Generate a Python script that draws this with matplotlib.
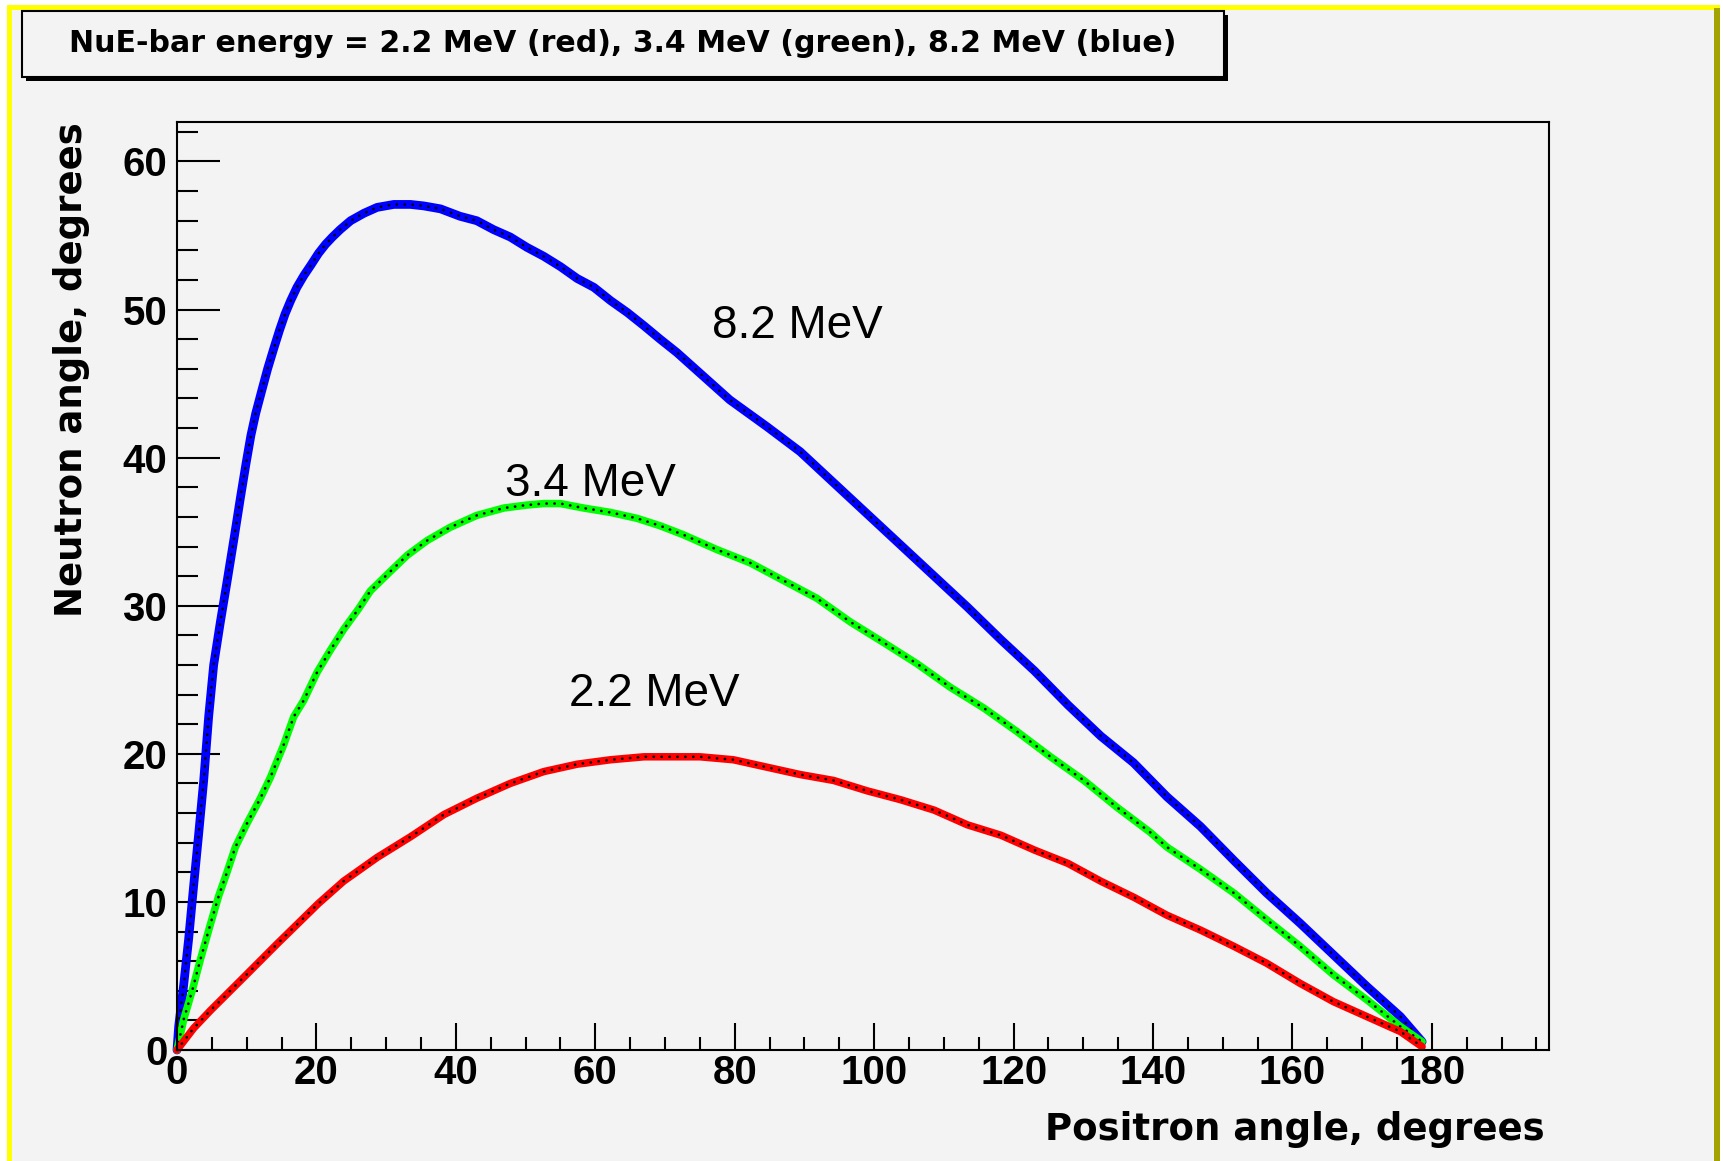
import numpy as np
import matplotlib.pyplot as plt
from matplotlib.patches import Rectangle
from matplotlib.ticker import MultipleLocator

plt.rcParams['font.family'] = ['Liberation Sans', 'DejaVu Sans']
plt.rcParams['font.weight'] = 'bold'

# positron angle (deg) vs neutron angle (deg) for three antineutrino energies
x_82 = [0, 0.24, 0.96, 1.67, 2.39, 3.11, 3.83, 4.54, 5.26, 6.22, 7.17, 8.2, 9.1, 9.9,
        10.6, 11.3, 12.2, 13.0, 13.9, 14.7, 15.5, 16.3, 17.2, 18.2, 19.2, 20.3, 21.3,
        22.3, 23.4, 24.9, 26.8, 28.7, 31.1, 33.5, 35.4, 37.8, 40.6, 43.0, 45.4, 47.8,
        50.2, 52.6, 55.0, 57.4, 59.8, 62.2, 64.6, 67.0, 69.3, 71.7, 75.5, 79.3, 84.6,
        89.4, 94.2, 99.0, 103.8, 108.6, 113.4, 118.2, 123.0, 127.8, 132.5, 137.2, 142.0,
        146.8, 151.6, 156.3, 161.1, 165.9, 170.7, 175.5, 178.6]
y_82 = [0, 1.6, 4.4, 7.5, 11.1, 14.6, 18.2, 22.5, 26.0, 28.9, 31.6, 34.6, 37.3, 39.6,
        41.5, 43.0, 44.6, 46.0, 47.4, 48.6, 49.7, 50.6, 51.5, 52.3, 53.0, 53.8, 54.4,
        54.9, 55.4, 56.0, 56.5, 56.9, 57.1, 57.1, 57.0, 56.8, 56.3, 56.0, 55.4, 54.9,
        54.2, 53.6, 52.9, 52.1, 51.5, 50.6, 49.8, 48.9, 48.0, 47.1, 45.5, 43.9, 42.1,
        40.4, 38.3, 36.2, 34.1, 32.0, 29.9, 27.7, 25.6, 23.3, 21.2, 19.4, 17.1,
        15.1, 12.8, 10.6, 8.56, 6.42, 4.28, 2.25, 0.56]

x_34 = [0, 0.96, 2.15, 3.35, 4.78, 5.98, 7.17, 8.37, 10.04, 11.96, 13.39, 15.3, 16.74,
        18.17, 20.09, 22.0, 23.9, 26.06, 27.74, 30.13, 33.0, 35.87, 39.2, 43.0, 46.9,
        50.2, 52.6, 55.0, 58.3, 62.2, 66.0, 69.3, 72.6, 77.4, 82.2, 87.0, 91.8, 96.6,
        101.4, 106.1, 110.9, 115.7, 120.5, 125.3, 130.1, 134.8, 139.6, 142.0, 146.8,
        151.6, 156.3, 161.1, 165.9, 170.7, 175.5, 178.6]
y_34 = [0, 2.06, 3.96, 6.1, 8.47, 10.4, 12.0, 13.7, 15.3, 17.0, 18.4, 20.6, 22.5,
        23.6, 25.5, 27.0, 28.4, 29.8, 31.0, 32.1, 33.4, 34.4, 35.3, 36.1, 36.6,
        36.8, 36.9, 36.9, 36.6, 36.3, 35.9, 35.4, 34.8, 33.8, 32.9, 31.7, 30.5, 28.9,
        27.5, 26.1, 24.5, 23.1, 21.5, 19.8, 18.2, 16.4, 14.7, 13.7, 12.2,
        10.6, 8.8, 7.0, 5.07, 3.38, 1.58, 0.56]

x_22 = [0, 2.39, 4.78, 9.56, 14.35, 20.3, 23.9, 28.7, 33.5, 38.3, 43.0, 47.8, 52.6,
        57.4, 62.2, 67.0, 71.7, 75.0, 79.8, 84.6, 89.4, 94.2, 99.0, 103.8, 108.6,
        113.4, 118.2, 123.0, 127.8, 132.5, 137.3, 142.0, 146.8, 151.6, 156.3, 161.1,
        165.9, 170.7, 175.5, 178.6]
y_22 = [0, 1.47, 2.66, 4.9, 7.16, 9.9, 11.4, 13.0, 14.4, 15.9, 17.0, 18.0, 18.8,
        19.3, 19.6, 19.8, 19.8, 19.8, 19.6, 19.1, 18.6, 18.2, 17.5, 16.9, 16.2,
        15.2, 14.5, 13.5, 12.6, 11.4, 10.3, 9.1, 8.1, 7.0, 5.86, 4.5,
        3.26, 2.25, 1.24, 0.22]

W, H = 1724, 1161
fig = plt.figure(figsize=(W / 100, H / 100), dpi=100, facecolor='white')


def box(x0, y0, x1, y1, **kw):
    # rectangle in canvas pixels, origin top-left, kept behind the axes
    fig.patches.append(Rectangle((x0 / W, 1 - y1 / H), (x1 - x0) / W, (y1 - y0) / H,
                                 transform=fig.transFigure, zorder=-1, **kw))


# canvas with bevelled yellow frame
box(7, 5, 1720, 1161, facecolor='#f3f3f3', edgecolor='none')
box(7, 5, 1720, 10, facecolor='#ffff00', edgecolor='none')
box(7, 5, 12, 1161, facecolor='#ffff00', edgecolor='none')
box(1714, 8, 1720, 1161, facecolor='#a3a300', edgecolor='none')

# title pave with shadow
box(26, 15, 1228, 81, facecolor='black', edgecolor='none')
box(22, 11, 1224, 77, facecolor='#f3f3f3', edgecolor='black', linewidth=1.5)
fig.text(623 / W, 1 - 44 / H,
         'NuE-bar energy = 2.2 MeV (red), 3.4 MeV (green), 8.2 MeV (blue)',
         ha='center', va='center', fontsize=21.6, family='DejaVu Sans', weight='bold')

ax = fig.add_axes([177 / W, 1 - 1050 / H, (1549 - 177) / W, (1050 - 121.5) / H])
ax.set_facecolor('#f3f3f3')

curves = [(x_82, y_82, '#0000ff', 6.3), (x_34, y_34, '#00ff00', 5.4), (x_22, y_22, '#ff0000', 5.4)]
for xs, ys, col, lw in curves:
    ax.plot(xs, ys, color=col, lw=lw, solid_joinstyle='round', solid_capstyle='round',
            clip_on=False)
    # black point markers along the curve
    ax.plot(xs, ys, color='black', lw=1.9, linestyle=(0, (0.1, 2.9)),
            dash_capstyle='round', clip_on=False)

ax.text(76.8, 48.07, '8.2 MeV', fontsize=33, weight='normal', ha='left', va='baseline')
ax.text(47.1, 37.4, '3.4 MeV', fontsize=33, weight='normal', ha='left', va='baseline')
ax.text(56.2, 23.2, '2.2 MeV', fontsize=33, weight='normal', ha='left', va='baseline')

ax.set_xlim(0, 196.8)
ax.set_ylim(0, 62.7)
ax.xaxis.set_major_locator(MultipleLocator(20))
ax.xaxis.set_minor_locator(MultipleLocator(5))
ax.yaxis.set_major_locator(MultipleLocator(10))
ax.yaxis.set_minor_locator(MultipleLocator(2))

for s in ax.spines.values():
    s.set_linewidth(1.5)
ax.tick_params(axis='both', which='both', direction='in', width=1.5,
               top=False, right=False, labelsize=29)
ax.tick_params(axis='x', which='major', length=19.5, pad=3)
ax.tick_params(axis='x', which='minor', length=9.5)
ax.tick_params(axis='y', which='major', length=31, pad=7)
ax.tick_params(axis='y', which='minor', length=15)

ax.set_xlabel('Positron angle, degrees', loc='right', fontsize=26.7,
              family='DejaVu Sans', weight='bold', va='baseline')
ax.xaxis.set_label_coords((1545 - 177) / 1372, -(1140 - 1050) / 928.5)
ax.set_ylabel('Neutron angle, degrees', loc='top', fontsize=26.7,
              family='DejaVu Sans', weight='bold', va='baseline')
ax.yaxis.set_label_coords((82 - 177) / 1372, (1050 - 122) / 928.5)

fig.savefig('out.png', dpi=100, facecolor=fig.get_facecolor())
